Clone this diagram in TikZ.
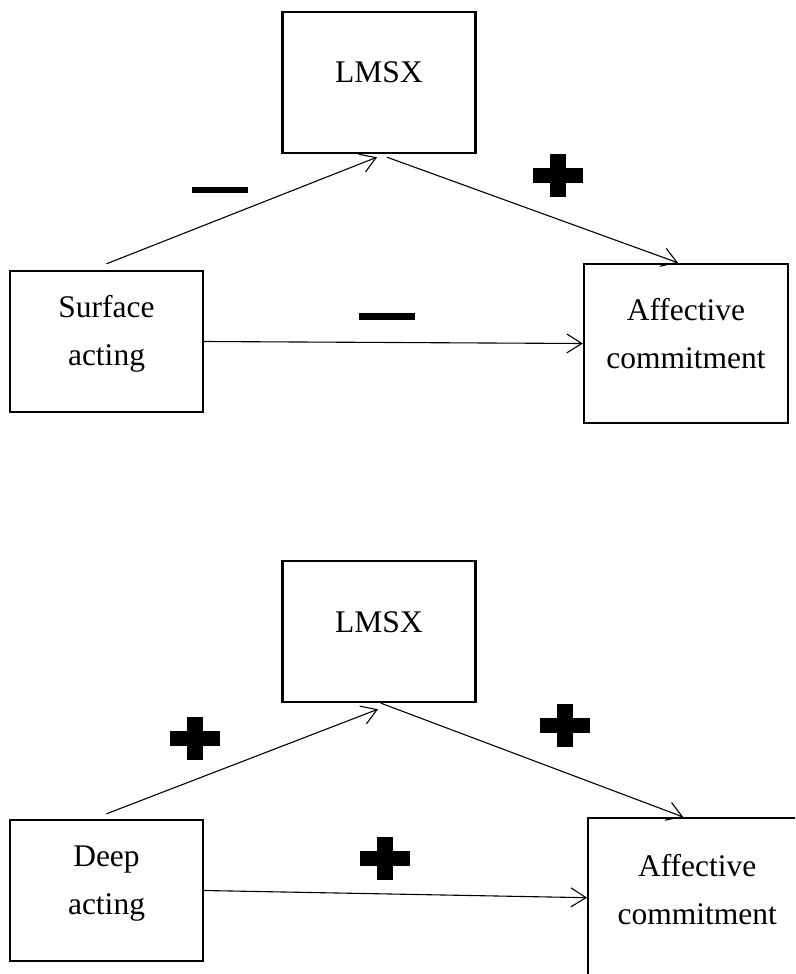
\documentclass[tikz,border=0pt]{standalone}
\usepackage{fontspec}
\setmainfont{Liberation Serif}
\usetikzlibrary{arrows.meta}

\begin{document}
\begin{tikzpicture}[x=1pt,y=-1pt,inner sep=0pt]
\tikzstyle{box}=[rectangle, draw=black, line width=2.4pt, minimum width=193pt, minimum height=141pt]
\tikzstyle{wide}=[box, minimum width=204pt, minimum height=159pt]
\tikzstyle{txt}=[align=center, font=\fontsize{31.5}{48}\selectfont]
\tikzstyle{connect}=[-{Straight Barb[length=15pt,width=19pt]}, line width=1.1pt]
\tikzstyle{negsign}=[fill=black, minimum width=56pt, minimum height=6.5pt]
\tikzstyle{possign}=[fill=black, minimum width=50pt, minimum height=15pt,
  label={[fill=black, inner sep=0pt, minimum width=16pt, minimum height=43pt]center:{}}]
\clip (0,0) rectangle (795,974);
% surface acting
\node[box] (lx1) at (379,82.5) {};
\node[box] (sa) at (106.5,341.5) {};
\node[wide] (ac1) at (686,343.5) {};
\node[txt] (tlx1) at ([yshift=10pt]lx1) {LMSX};
\node[txt] (tsa) at ([yshift=7.5pt]sa) {Surface\\acting};
\node[txt] (tac1) at ([yshift=10pt]ac1) {Affective\\commitment};
\path ([yshift=6pt]sa.north) edge[connect] ([xshift=-2pt,yshift=-3pt]lx1.south);
\path ([xshift=8pt,yshift=-3pt]lx1.south) edge[connect] ([xshift=-8pt]ac1.north);
\path (sa.east) edge[connect] (ac1.west);
\node[negsign] (m1) at (220,190) {};
\node[possign] (p1) at (558,175.5) {};
\node[negsign] (m2) at (386.5,316.5) {};
% deep acting
\node[box] (lx2) at (379,631.5) {};
\node[box] (da) at (106.5,890.5) {};
\node[wide, minimum width=218pt] (ac2) at (697.2,897.7) {};
\node[txt] (tlx2) at ([yshift=9pt]lx2) {LMSX};
\node[txt] (tda) at ([yshift=6.5pt]da) {Deep\\acting};
\node[txt] (tac2) at ([yshift=8.5pt]ac2) {Affective\\commitment};
\path ([yshift=5pt]da.north) edge[connect] ([xshift=-1pt,yshift=-6pt]lx2.south);
\path ([xshift=2pt]lx2.south) edge[connect] ([xshift=-14pt]ac2.north);
\path (da.east) edge[connect] (ac2.west);
\node[possign] (p2) at (194.5,738) {};
\node[possign] (p3) at (385,858) {};
\node[possign] (p4) at (565,725.5) {};
\end{tikzpicture}
\end{document}
